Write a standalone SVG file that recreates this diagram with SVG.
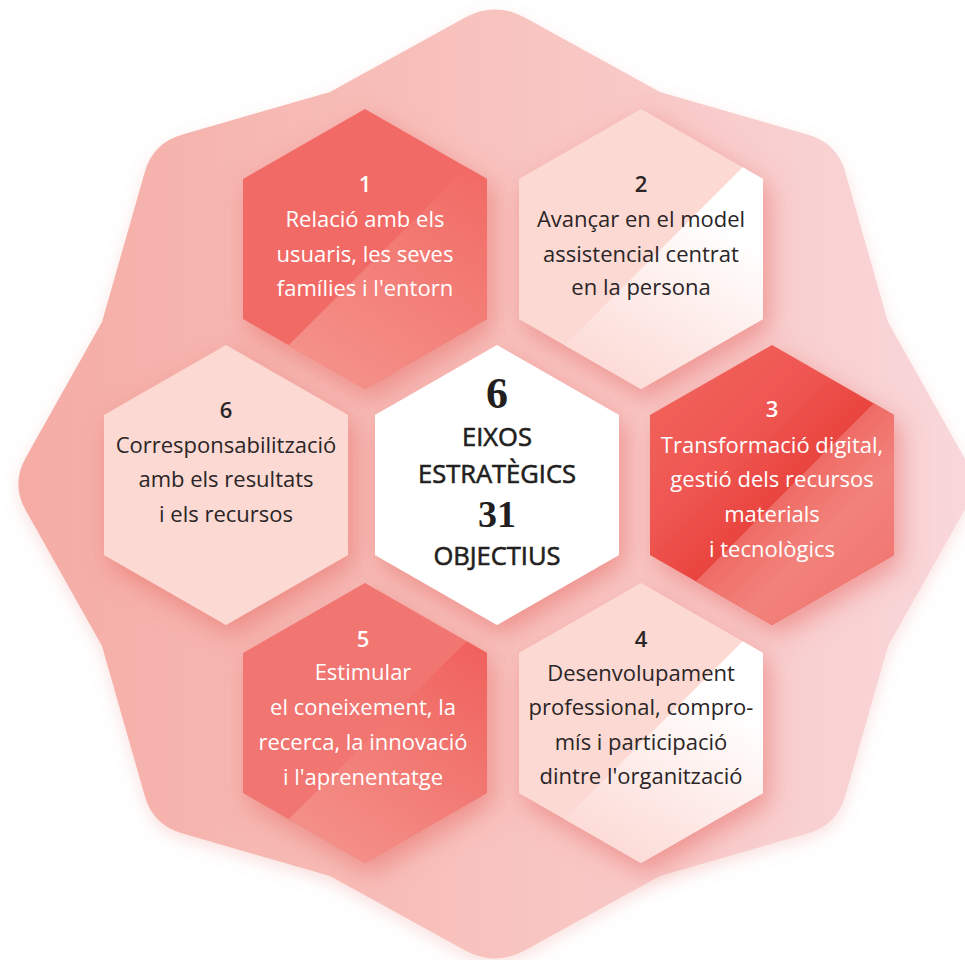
<svg xmlns="http://www.w3.org/2000/svg" xmlns:xlink="http://www.w3.org/1999/xlink" width="965" height="960" viewBox="0 0 965 960">
<style>
.t{font-family:"Open Sans","Noto Sans","DejaVu Sans",sans-serif;font-size:22px;text-anchor:middle}
.n{font-weight:600}
.w{fill:#ffffff}
.d{fill:#2a2526}
.big{font-family:"Liberation Serif","DejaVu Serif",serif;font-weight:700;font-size:44px;text-anchor:middle;fill:#231f20}
.cap{font-family:"Open Sans","Noto Sans","DejaVu Sans",sans-serif;font-weight:400;font-size:25.5px;text-anchor:middle;fill:#231f20;stroke:#231f20;stroke-width:0.6px}
.sh{filter:url(#shadow)}
</style>
<defs>
<linearGradient id="bg" x1="0" y1="0" x2="1" y2="0">
<stop offset="0" stop-color="#f5aca5"/>
<stop offset="0.5" stop-color="#f8c3bf"/>
<stop offset="1" stop-color="#f9d7da"/>
</linearGradient>
<filter id="shadow" x="-30%" y="-30%" width="160%" height="160%">
<feDropShadow dx="6" dy="10" stdDeviation="13" flood-color="#e55c56" flood-opacity="0.5"/>
</filter>
<filter id="bgsh" x="-10%" y="-10%" width="120%" height="120%">
<feDropShadow dx="0" dy="6" stdDeviation="8" flood-color="#e88b86" flood-opacity="0.25"/>
</filter>
<polygon id="hex" points="0,-140 122,-70 122,70 0,140 -122,70 -122,-70"/>
<polygon id="hexB" points="101.7,-81.7 122,-70 122,70 0,140 -76.25,96.25"/>
<linearGradient id="g1B" gradientUnits="userSpaceOnUse" x1="100" y1="-80" x2="-40" y2="130">
<stop offset="0" stop-color="#f26b66"/>
<stop offset="1" stop-color="#f4928a"/>
</linearGradient>
<linearGradient id="gLB" gradientUnits="userSpaceOnUse" x1="110" y1="-80" x2="-20" y2="140">
<stop offset="0.25" stop-color="#ffffff"/>
<stop offset="1" stop-color="#fcdad5"/>
</linearGradient>
<linearGradient id="g3A" gradientUnits="userSpaceOnUse" x1="-100" y1="-100" x2="100" y2="100">
<stop offset="0" stop-color="#f0605a"/>
<stop offset="0.3" stop-color="#ef5752"/>
<stop offset="0.55" stop-color="#e9443e"/>
</linearGradient>
<linearGradient id="g3B" gradientUnits="userSpaceOnUse" x1="-100" y1="-100" x2="100" y2="100">
<stop offset="0.55" stop-color="#ef6b65"/>
<stop offset="0.75" stop-color="#f2827b"/>
<stop offset="1" stop-color="#f17872"/>
</linearGradient>
<linearGradient id="g5B" gradientUnits="userSpaceOnUse" x1="100" y1="-80" x2="-40" y2="130">
<stop offset="0" stop-color="#f0625d"/>
<stop offset="1" stop-color="#f4918a"/>
</linearGradient>
</defs>

<g id="background">
<path fill="url(#bg)" filter="url(#bgsh)" d="M464.3,17.9 Q495,1 525.7,17.9 L660,92 L808.2,134.7 Q837,143 845.2,171.9 L888,322 L964.3,457.8 Q979,484 964.3,510.6 L888,646 L845.2,796.1 Q837,825 808.2,833.3 L660,876 L525.7,950.1 Q495,967 464.3,950.1 L330,876 L181.8,833.3 Q153,825 144.8,796.1 L102,646 L25.7,510.2 Q11,484 25.7,457.8 L102,322 L144.8,171.9 Q153,143 181.8,134.7 L330,92 Z"/>
</g>

<g id="connectors"></g>

<g id="node1">
<g transform="translate(365,249)" class="sh">
<use xlink:href="#hex" fill="#f26a65"/>
<use xlink:href="#hexB" fill="url(#g1B)"/>
</g>
<text class="t n w" x="365" y="192">1</text>
<text class="t w" x="365" y="227">Relació amb els</text>
<text class="t w" x="365" y="262">usuaris, les seves</text>
<text class="t w" x="365" y="296">famílies i l'entorn</text>
</g>

<g id="node2">
<g transform="translate(641,249)" class="sh">
<use xlink:href="#hex" fill="#fcd9d3"/>
<use xlink:href="#hexB" fill="url(#gLB)"/>
</g>
<text class="t n d" x="641" y="192">2</text>
<text class="t d" x="641" y="227">Avançar en el model</text>
<text class="t d" x="641" y="262">assistencial centrat</text>
<text class="t d" x="641" y="295">en la persona</text>
</g>

<g id="node6">
<g transform="translate(226,485)" class="sh">
<use xlink:href="#hex" fill="#fcd9d3"/>
</g>
<text class="t n d" x="226" y="418">6</text>
<text class="t d" x="226" y="453">Corresponsabilització</text>
<text class="t d" x="226" y="487">amb els resultats</text>
<text class="t d" x="226" y="522">i els recursos</text>
</g>

<g id="center">
<g transform="translate(497,485)" class="sh">
<use xlink:href="#hex" fill="#ffffff"/>
</g>
<text class="big" x="497" y="408">6</text>
<text class="cap" x="497" y="446">EIXOS</text>
<text class="cap" x="497" y="483">ESTRATÈGICS</text>
<text class="big" x="497" y="527" style="font-size:38px">31</text>
<text class="cap" x="497" y="565">OBJECTIUS</text>
</g>

<g id="node3">
<g transform="translate(772,485)" class="sh">
<use xlink:href="#hex" fill="url(#g3A)"/>
<use xlink:href="#hexB" fill="url(#g3B)"/>
</g>
<text class="t n w" x="772" y="417">3</text>
<text class="t w" x="772" y="453">Transformació digital,</text>
<text class="t w" x="772" y="487">gestió dels recursos</text>
<text class="t w" x="772" y="522">materials</text>
<text class="t w" x="772" y="557">i tecnològics</text>
</g>

<g id="node5">
<g transform="translate(365,723)" class="sh">
<use xlink:href="#hex" fill="#f17471"/>
<use xlink:href="#hexB" fill="url(#g5B)"/>
</g>
<text class="t n w" x="363" y="647">5</text>
<text class="t w" x="363" y="680">Estimular</text>
<text class="t w" x="363" y="715">el coneixement, la</text>
<text class="t w" x="363" y="750">recerca, la innovació</text>
<text class="t w" x="363" y="785">i l'aprenentatge</text>
</g>

<g id="node4">
<g transform="translate(641,723)" class="sh">
<use xlink:href="#hex" fill="#fcd9d3"/>
<use xlink:href="#hexB" fill="url(#gLB)"/>
</g>
<text class="t n d" x="641" y="647">4</text>
<text class="t d" x="641" y="681">Desenvolupament</text>
<text class="t d" x="641" y="715">professional, compro-</text>
<text class="t d" x="641" y="750">mís i participació</text>
<text class="t d" x="641" y="784">dintre l'organització</text>
</g>
</svg>
